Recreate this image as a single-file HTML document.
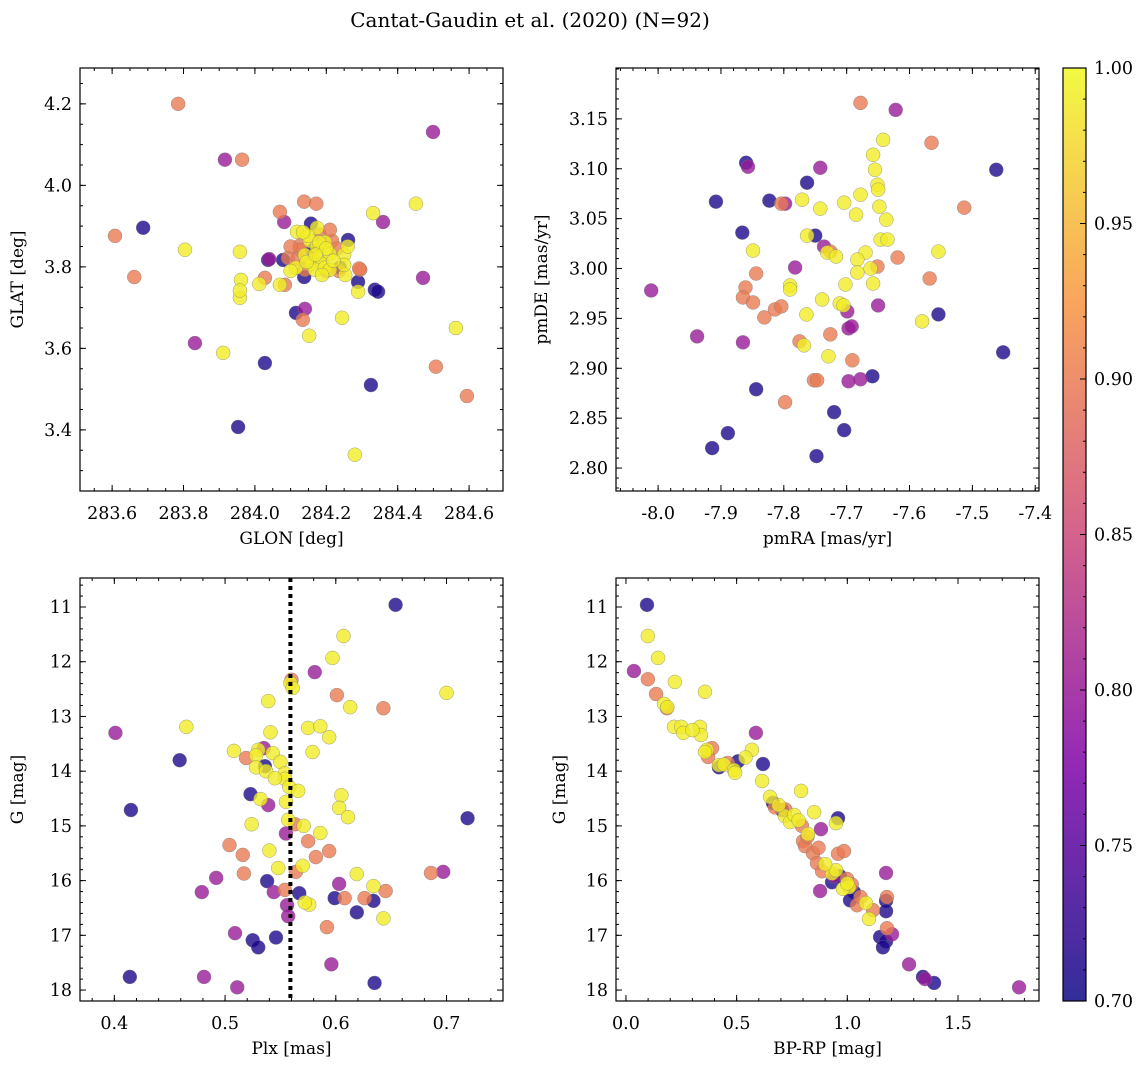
<!DOCTYPE html>
<html><head><meta charset="utf-8"><style>
body{margin:0;background:#fff;}
svg{display:block;font-family:"DejaVu Serif","Liberation Serif",serif;}
</style></head><body>
<svg id="fig" width="1148" height="1068" viewBox="0 0 1148 1068" xmlns="http://www.w3.org/2000/svg">
<text x="530" y="27" font-size="20" text-anchor="middle">Cantat-Gaudin et al. (2020) (N=92)</text>
</svg>
<script>
// membership prob: 0.71 blue, 0.80 purple, 0.90 salmon, 0.99 yellow
const glonGlat=[
[283.785,4.200,.90],[284.499,4.131,.80],[283.916,4.063,.80],[283.964,4.063,.90],[284.451,3.955,.99],
[284.138,3.960,.90],[284.070,3.935,.90],[284.331,3.932,.99],[283.608,3.876,.90],[283.687,3.896,.71],
[283.804,3.842,.99],[283.662,3.775,.90],[284.359,3.910,.80],[284.082,3.910,.80],[284.157,3.906,.71],
[284.261,3.866,.71],[283.958,3.837,.99],[284.037,3.817,.71],[284.040,3.819,.80],[284.079,3.817,.71],
[284.093,3.822,.90],[284.118,3.886,.99],[284.126,3.852,.90],[283.961,3.768,.99],[284.028,3.773,.90],
[284.012,3.758,.99],[283.958,3.724,.99],[283.958,3.742,.99],[284.084,3.756,.90],[284.070,3.756,.99],
[284.289,3.763,.71],[284.295,3.793,.90],[284.253,3.780,.99],[284.289,3.739,.99],[284.336,3.744,.71],
[284.345,3.739,.71],[284.292,3.796,.90],[284.238,3.798,.71],[284.138,3.775,.71],[284.115,3.687,.71],
[284.140,3.697,.80],[284.134,3.670,.90],[284.244,3.675,.99],[284.152,3.631,.99],[284.471,3.773,.80],
[284.563,3.650,.99],[283.832,3.613,.80],[283.911,3.589,.99],[284.028,3.564,.71],[284.507,3.555,.90],
[284.325,3.510,.71],[284.594,3.483,.90],[283.953,3.407,.71],[284.280,3.339,.99],
[284.154,3.864,.99],[284.174,3.849,.99],[284.196,3.861,.99],[284.216,3.864,.90],[284.140,3.829,.99],
[284.163,3.817,.99],[284.182,3.825,.99],[284.210,3.832,.99],[284.160,3.807,.99],[284.188,3.807,.99],
[284.115,3.798,.99],[284.140,3.793,.90],[284.168,3.793,.99],[284.196,3.798,.99],[284.126,3.842,.90],
[284.182,3.879,.90],[284.174,3.896,.99],[284.210,3.891,.90],[284.149,3.876,.99],[284.210,3.793,.99],
[284.188,3.780,.99],[284.230,3.845,.90],[284.250,3.830,.99],[284.100,3.850,.90],[284.135,3.885,.99],
[284.172,3.955,.90],[284.250,3.805,.99],[284.200,3.790,.90],[284.100,3.790,.99],[284.220,3.815,.99],
[284.160,3.840,.71],[284.180,3.860,.99],[284.260,3.850,.99],[284.120,3.820,.90],[284.200,3.845,.99],
[284.145,3.812,.99],[284.235,3.790,.90],[284.170,3.830,.99]];
const pmRaDe=[
[-7.678,3.166,.90],[-7.622,3.159,.80],[-7.860,3.106,.71],[-7.857,3.102,.80],[-7.642,3.129,.99],
[-7.658,3.114,.99],[-7.655,3.099,.99],[-7.742,3.101,.80],[-7.763,3.086,.71],[-7.651,3.084,.99],
[-7.650,3.079,.99],[-7.462,3.099,.71],[-7.565,3.126,.90],[-7.908,3.067,.71],[-7.823,3.068,.71],
[-7.804,3.065,.90],[-7.798,3.065,.80],[-7.771,3.069,.99],[-7.678,3.074,.99],[-7.704,3.066,.99],
[-7.742,3.060,.99],[-7.685,3.054,.99],[-7.648,3.062,.99],[-7.637,3.049,.99],[-7.513,3.061,.90],
[-7.866,3.036,.71],[-7.750,3.033,.71],[-7.763,3.033,.99],[-7.736,3.022,.80],[-7.726,3.017,.90],
[-7.849,3.018,.99],[-7.731,3.016,.99],[-7.646,3.029,.99],[-7.635,3.029,.99],[-7.670,3.016,.99],
[-7.683,3.009,.99],[-7.717,3.012,.99],[-7.619,3.011,.90],[-7.554,3.017,.99],[-7.782,3.001,.80],
[-7.662,3.000,.99],[-7.651,3.002,.90],[-7.683,2.996,.99],[-7.844,2.995,.90],[-7.568,2.990,.90],
[-8.011,2.978,.80],[-7.861,2.981,.90],[-7.790,2.983,.99],[-7.790,2.979,.99],[-7.658,2.985,.99],
[-7.702,2.984,.99],[-7.739,2.969,.99],[-7.711,2.965,.99],[-7.705,2.963,.99],[-7.865,2.971,.90],
[-7.849,2.966,.90],[-7.814,2.959,.90],[-7.804,2.962,.90],[-7.831,2.951,.90],[-7.764,2.954,.99],
[-7.699,2.957,.80],[-7.650,2.963,.80],[-7.554,2.954,.71],[-7.580,2.947,.99],[-7.726,2.934,.90],
[-7.697,2.940,.80],[-7.692,2.942,.80],[-7.938,2.932,.80],[-7.865,2.926,.80],[-7.775,2.927,.90],
[-7.768,2.923,.99],[-7.729,2.912,.99],[-7.691,2.908,.90],[-7.451,2.916,.71],[-7.752,2.888,.90],
[-7.747,2.888,.90],[-7.678,2.889,.80],[-7.697,2.887,.80],[-7.659,2.892,.71],[-7.844,2.879,.71],
[-7.798,2.866,.90],[-7.720,2.856,.71],[-7.889,2.835,.71],[-7.704,2.838,.71],[-7.914,2.820,.71],
[-7.748,2.812,.71]];
const plxG=[
[0.654,10.96,.71],[0.607,11.53,.99],[0.597,11.93,.99],[0.581,12.19,.80],[0.560,12.33,.90],
[0.559,12.39,.99],[0.700,12.57,.99],[0.601,12.61,.90],[0.539,12.72,.99],[0.613,12.83,.99],
[0.643,12.85,.90],[0.465,13.19,.99],[0.575,13.21,.99],[0.586,13.18,.99],[0.541,13.29,.99],
[0.594,13.38,.99],[0.401,13.30,.80],[0.535,13.58,.80],[0.530,13.61,.99],[0.508,13.63,.99],
[0.528,13.71,.99],[0.543,13.67,.99],[0.579,13.65,.99],[0.519,13.76,.90],[0.550,13.83,.99],
[0.459,13.80,.71],[0.536,13.91,.71],[0.528,13.93,.99],[0.537,14.00,.99],[0.554,14.04,.99],
[0.554,14.14,.99],[0.545,14.13,.99],[0.558,14.29,.99],[0.566,14.36,.99],[0.605,14.44,.99],
[0.523,14.42,.71],[0.603,14.67,.99],[0.532,14.51,.99],[0.539,14.62,.80],[0.555,14.56,.99],
[0.415,14.71,.71],[0.719,14.86,.71],[0.611,14.84,.99],[0.524,14.97,.99],[0.557,14.89,.99],
[0.563,14.97,.90],[0.575,15.28,.90],[0.504,15.35,.90],[0.555,15.14,.80],[0.586,15.13,.99],
[0.516,15.53,.90],[0.582,15.57,.90],[0.594,15.46,.90],[0.570,15.73,.99],[0.564,15.84,.90],
[0.619,15.88,.99],[0.686,15.86,.90],[0.697,15.84,.80],[0.517,15.87,.90],[0.492,15.95,.80],
[0.548,15.77,.99],[0.538,16.01,.71],[0.603,16.06,.80],[0.634,16.10,.99],[0.645,16.19,.90],
[0.479,16.21,.80],[0.567,16.23,.71],[0.544,16.21,.80],[0.554,16.17,.90],[0.608,16.32,.90],
[0.626,16.32,.90],[0.599,16.32,.71],[0.634,16.37,.71],[0.576,16.44,.99],[0.572,16.40,.99],
[0.556,16.45,.80],[0.557,16.65,.80],[0.619,16.58,.71],[0.643,16.69,.99],[0.592,16.85,.90],
[0.509,16.96,.80],[0.525,17.09,.71],[0.530,17.22,.71],[0.546,17.04,.71],[0.596,17.53,.80],
[0.414,17.76,.71],[0.481,17.76,.80],[0.635,17.87,.71],[0.511,17.95,.80],[0.561,12.48,.99],
[0.571,15.00,.99],[0.540,15.45,.99]];
const bprpG=[
[0.095,10.96,.71],[0.099,11.53,.99],[0.145,11.93,.99],[0.036,12.17,.80],[0.099,12.32,.90],
[0.221,12.37,.99],[0.136,12.59,.90],[0.357,12.55,.99],[0.172,12.77,.99],[0.185,12.85,.90],
[0.187,12.83,.99],[0.217,13.19,.99],[0.250,13.19,.99],[0.259,13.30,.99],[0.334,13.19,.99],
[0.339,13.34,.99],[0.587,13.30,.80],[0.366,13.61,.99],[0.389,13.58,.90],[0.357,13.65,.99],
[0.569,13.61,.99],[0.371,13.74,.90],[0.506,13.82,.71],[0.420,13.89,.99],[0.443,13.88,.99],
[0.420,13.93,.71],[0.488,13.98,.99],[0.493,14.03,.99],[0.619,13.87,.71],[0.615,14.18,.99],
[0.651,14.47,.99],[0.664,14.58,.71],[0.673,14.66,.90],[0.705,14.71,.71],[0.791,14.36,.99],
[0.718,14.82,.99],[0.741,14.93,.99],[0.850,14.75,.99],[0.822,15.15,.99],[0.795,15.00,.90],
[0.949,14.95,.99],[0.958,14.86,.71],[0.881,15.06,.80],[0.800,15.28,.90],[0.809,15.37,.90],
[0.958,15.51,.90],[0.985,15.46,.90],[0.845,15.50,.90],[0.863,15.68,.90],[0.886,15.83,.90],
[0.940,15.92,.80],[0.931,16.03,.71],[0.967,15.92,.71],[0.999,15.97,.90],[0.931,15.87,.99],
[0.949,15.81,.99],[1.008,16.12,.99],[1.020,16.07,.90],[1.175,15.86,.80],[0.877,16.19,.80],
[1.030,16.21,.71],[1.012,16.36,.71],[1.044,16.45,.90],[1.084,16.41,.99],[1.116,16.54,.90],
[1.179,16.30,.90],[1.175,16.37,.71],[1.175,16.56,.71],[1.098,16.70,.99],[1.179,16.87,.90],
[1.202,16.98,.80],[1.148,17.03,.71],[1.175,17.11,.71],[1.161,17.22,.71],[1.279,17.53,.80],
[1.342,17.76,.71],[1.351,17.80,.80],[1.392,17.87,.71],[1.776,17.95,.80],[0.690,14.62,.99],
[0.760,14.80,.99],[0.900,15.70,.99],[0.980,16.15,.99],[1.060,16.30,.90],[0.820,15.20,.90],
[0.720,14.70,.90],[0.540,13.75,.99],[0.300,13.25,.99],[0.460,13.85,.90],[0.870,15.40,.90],
[1.000,16.05,.99],[0.780,14.90,.99]];
const cbTicks=[0.70,0.75,0.80,0.85,0.90,0.95,1.00];

const NS="http://www.w3.org/2000/svg";
const svg=document.getElementById('fig');
const TF=17.5, LF=17;
function mk(tag,at,parent){const e=document.createElementNS(NS,tag);for(const k in at)e.setAttribute(k,at[k]);(parent||svg).appendChild(e);return e;}
const stops=[[0,[13,8,135]],[0.25,[126,3,168]],[0.5,[204,71,120]],[0.75,[248,149,64]],[1,[240,249,33]]];
function plasma(t){t=Math.max(0,Math.min(1,t));for(let i=0;i<stops.length-1;i++){const a=stops[i],b=stops[i+1];if(t<=b[0]){const f=(t-a[0])/(b[0]-a[0]);return 'rgb('+a[1].map((c,j)=>Math.round(c+(b[1][j]-c)*f)).join(',')+')';}}return 'rgb(240,249,33)';}
const cmap=p=>plasma((p-0.7)/0.3);

function panel(o){
  const g=mk('g',{});
  
  
  const sx=v=>o.L+(v-o.x0)/(o.x1-o.x0)*o.W;
  const sy=v=>o.T+(v-o.yT)/(o.yB-o.yT)*o.H;
  const pts=o.data.slice().sort((a,b)=>a[2]-b[2]);
  pts.forEach(d=>{
    const c=mk('circle',{cx:sx(d[0]),cy:sy(d[1]),r:7,fill:cmap(d[2]),'fill-opacity':0.8,stroke:'#777','stroke-width':0.5,'stroke-opacity':0.7},g);
    
    
  });
  if(o.vline!==undefined){
    const l=mk('line',{x1:sx(o.vline),x2:sx(o.vline),y1:o.T,y2:o.T+o.H,stroke:'#000','stroke-width':4,'stroke-dasharray':'4,4'},g);
    
    
  }
  const fr=mk('rect',{x:o.L,y:o.T,width:o.W,height:o.H,fill:'none',stroke:'#000','stroke-width':1.2},g);
  
  
  const lo=Math.min(o.x0,o.x1),hi=Math.max(o.x0,o.x1);
  for(let v=Math.ceil(lo/o.xm-1e-6)*o.xm;v<=hi+1e-9;v+=o.xm){const x=sx(v);mk('line',{x1:x,x2:x,y1:o.T+o.H,y2:o.T+o.H-3,stroke:'#000'},g);mk('line',{x1:x,x2:x,y1:o.T,y2:o.T+3,stroke:'#000'},g);}
  const ylo=Math.min(o.yT,o.yB),yhi=Math.max(o.yT,o.yB);
  for(let v=Math.ceil(ylo/o.ym-1e-6)*o.ym;v<=yhi+1e-9;v+=o.ym){const y=sy(v);mk('line',{x1:o.L,x2:o.L+3,y1:y,y2:y,stroke:'#000'},g);mk('line',{x1:o.L+o.W,x2:o.L+o.W-3,y1:y,y2:y,stroke:'#000'},g);}
  o.xt.forEach(v=>{const x=sx(v);mk('line',{x1:x,x2:x,y1:o.T+o.H,y2:o.T+o.H-6,stroke:'#000'},g);mk('line',{x1:x,x2:x,y1:o.T,y2:o.T+6,stroke:'#000'},g);
    const t=mk('text',{x:x,y:o.T+o.H+28,'font-size':TF,'text-anchor':'middle'},g);t.textContent=v.toFixed(o.xd);
    });
  o.yt.forEach(v=>{const y=sy(v);mk('line',{x1:o.L,x2:o.L+6,y1:y,y2:y,stroke:'#000'},g);mk('line',{x1:o.L+o.W,x2:o.L+o.W-6,y1:y,y2:y,stroke:'#000'},g);
    const t=mk('text',{x:o.L-8,y:y+6,'font-size':TF,'text-anchor':'end'},g);t.textContent=v.toFixed(o.yd);
    });
  const xl=mk('text',{x:o.L+o.W/2,y:o.T+o.H+53,'font-size':LF,'text-anchor':'middle'},g);xl.textContent=o.xl;
  
  const cy=o.T+o.H/2;
  const yl=mk('text',{x:o.ylx,y:cy,'font-size':LF,'text-anchor':'middle',transform:'rotate(-90 '+o.ylx+' '+cy+')'},g);yl.textContent=o.yl;
  
}
panel({name:'glon-glat-panel',L:80,T:68,W:423,H:423,x0:283.51,x1:284.695,yT:4.288,yB:3.25,xt:[283.6,283.8,284.0,284.2,284.4,284.6],yt:[3.4,3.6,3.8,4.0,4.2],xm:0.05,ym:0.05,xd:1,yd:1,xl:'GLON [deg]',yl:'GLAT [deg]',ylx:23,data:glonGlat});
panel({name:'proper-motion-panel',L:616,T:68,W:423,H:423,x0:-8.067,x1:-7.394,yT:3.201,yB:2.777,xt:[-8.0,-7.9,-7.8,-7.7,-7.6,-7.5,-7.4],yt:[2.80,2.85,2.90,2.95,3.00,3.05,3.10,3.15],xm:0.02,ym:0.01,xd:1,yd:2,xl:'pmRA [mas/yr]',yl:'pmDE [mas/yr]',ylx:547,data:pmRaDe});
panel({name:'parallax-mag-panel',L:80,T:578,W:423,H:423,x0:0.369,x1:0.751,yT:10.47,yB:18.2,xt:[0.4,0.5,0.6,0.7],yt:[11,12,13,14,15,16,17,18],xm:0.02,ym:0.2,xd:1,yd:0,xl:'Plx [mas]',yl:'G [mag]',ylx:23,data:plxG,vline:0.559});
panel({name:'cmd-panel',L:616,T:578,W:423,H:423,x0:-0.045,x1:1.866,yT:10.47,yB:18.2,xt:[0.0,0.5,1.0,1.5],yt:[11,12,13,14,15,16,17,18],xm:0.1,ym:0.2,xd:1,yd:0,xl:'BP-RP [mag]',yl:'G [mag]',ylx:565,data:bprpG});

// colorbar
const cb=mk('g',{});


const defs=mk('defs',{},cb);
const lg=mk('linearGradient',{id:'cbg',x1:0,y1:1,x2:0,y2:0},defs);
for(let i=0;i<=20;i++){mk('stop',{offset:i/20,'stop-color':plasma(i/20),'stop-opacity':0.85},lg);}
const cbT=68,cbB=1001,cbL=1063,cbW=23;
mk('rect',{x:cbL,y:cbT,width:cbW,height:cbB-cbT,fill:'url(#cbg)',stroke:'#000','stroke-width':1.2},cb);
const cy=v=>cbB-(v-0.7)/0.3*(cbB-cbT);
for(let v=0.70;v<=1.0001;v+=0.01){const y=cy(v);mk('line',{x1:cbL+cbW,x2:cbL+cbW-3,y1:y,y2:y,stroke:'#000'},cb);}
cbTicks.forEach(v=>{const y=cy(v);mk('line',{x1:cbL+cbW,x2:cbL+cbW-6,y1:y,y2:y,stroke:'#000'},cb);
  const t=mk('text',{x:cbL+cbW+8,y:y+6,'font-size':TF},cb);t.textContent=v.toFixed(2);
  });
</script>
</body></html>
